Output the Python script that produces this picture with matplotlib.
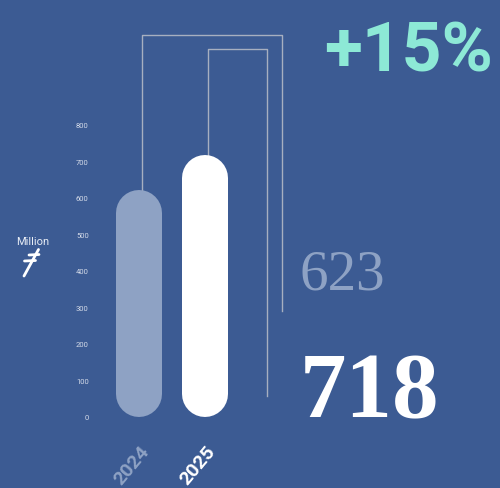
import matplotlib.pyplot as plt
from matplotlib.lines import Line2D
from matplotlib.transforms import ScaledTranslation

years = ['2024', '2025']
revenue = [623, 718]
bar_colors = ['#8ea2c4', '#ffffff']
yticks = [0, 100, 200, 300, 400, 500, 600, 700, 800]

bg = '#3c5b93'
W, H, DPI = 500, 489, 100

# pixel scale of the data axes
px_x = 66.0      # px per category step
px_y = 0.365     # px per million
x0_px, y0_px = 139, 418

fig = plt.figure(figsize=(W / DPI, H / DPI), dpi=DPI, facecolor=bg)
ax = fig.add_axes([0, 0, 1, 1])
ax.set_facecolor(bg)
ax.set_xlim(-x0_px / px_x, (W - x0_px) / px_x)
ax.set_ylim(-(H - y0_px) / px_y, y0_px / px_y)

# rounded bars drawn as fat lines with round caps
bar_px = 46
cap = (bar_px / 2) / px_y
for i, (v, c) in enumerate(zip(revenue, bar_colors)):
    ax.plot([i, i], [cap, v - cap], lw=bar_px * 72 / DPI, color=c,
            solid_capstyle='round', zorder=3)

# connector lines from the bar tops to the value labels
line_col = '#a7afc0'
off = 2.5 / px_x
conn = [(1046, 2.167, 290), (1008, 1.94, 57)]
for i, (v, (top, right, end)) in enumerate(zip(revenue, conn)):
    ax.plot([i + off, i + off, right, right], [v, top, top, end],
            color=line_col, lw=1.0, zorder=2)

# y axis
for s in ax.spines.values():
    s.set_color('none')
ax.spines['left'].set_position(('data', -0.72))
ax.set_yticks(yticks)
ax.tick_params(axis='y', length=0, pad=2, labelsize=5.5, labelcolor='#d3dae8')
for lab in ax.get_yticklabels():
    lab.set_fontfamily('Roboto')

# x axis labels, rotated
ax.spines['bottom'].set_position(('data', -130))
ax.set_xticks(range(len(years)), years)
ax.tick_params(axis='x', length=0, pad=0)
shift = ScaledTranslation(-7 / DPI, 0, fig.dpi_scale_trans)
for lab, c in zip(ax.get_xticklabels(), bar_colors):
    lab.set_color(c)
    lab.set_fontfamily('Roboto')
    lab.set_fontweight('bold')
    lab.set_fontsize(14)
    lab.set_rotation(50)
    lab.set_rotation_mode('anchor')
    lab.set_ha('center')
    lab.set_va('center')
    lab.set_transform(lab.get_transform() + shift)

# value labels
fig.text(299 / W, 1 - 289 / H, f'{revenue[0]}', color=bar_colors[0],
         family='Liberation Serif', fontsize=41, ha='left', va='baseline')
fig.text(300 / W, 1 - 417 / H, f'{revenue[1]}', color=bar_colors[1],
         family='Liberation Serif', fontweight='bold', fontsize=67,
         ha='left', va='baseline')

growth = round((revenue[1] / revenue[0] - 1) * 100)
fig.text(493 / W, 1 - 71 / H, f'+{growth}%', color='#8de9d6',
         family='Roboto', fontweight='bold', fontsize=50,
         ha='right', va='baseline')

# unit label with currency sign
fig.text(33 / W, 1 - 242 / H, 'Million', color='#e8edf5', family='Roboto',
         fontsize=8, ha='center', va='center')
sym = [((24, 277), (38.5, 250.5)), ((29, 256), (39, 255.5)),
       ((24.5, 262), (35.5, 261.5))]
for (xa, ya), (xb, yb) in sym:
    fig.add_artist(Line2D([xa, xb], [H - ya, H - yb], transform=None,
                          color='white', lw=2.0, solid_capstyle='round'))

fig.savefig('out.png', dpi=DPI, facecolor=bg)
